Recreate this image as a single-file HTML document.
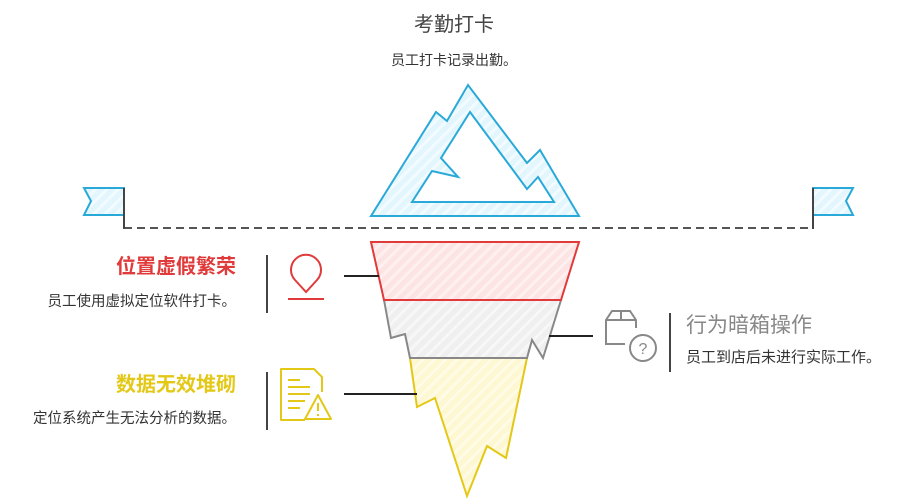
<!DOCTYPE html>
<html><head><meta charset="utf-8"><style>
body{margin:0;width:908px;height:501px;background:#fff;overflow:hidden;position:relative;font-family:"Liberation Sans","Noto Sans CJK SC",sans-serif}
.t{position:absolute;white-space:nowrap;line-height:1.2}
</style></head><body>
<svg width="908" height="501" style="position:absolute;left:0;top:0">
<defs>
<pattern id="hb" width="8" height="8" patternUnits="userSpaceOnUse" patternTransform="rotate(45)"><rect width="8" height="8" fill="#e3f6fd"/><rect width="3" height="8" fill="#f2fbff"/></pattern>
<pattern id="hr" width="8" height="8" patternUnits="userSpaceOnUse" patternTransform="rotate(45)"><rect width="8" height="8" fill="#fde4e4"/><rect width="3" height="8" fill="#fff0f0"/></pattern>
<pattern id="hg" width="8" height="8" patternUnits="userSpaceOnUse" patternTransform="rotate(45)"><rect width="8" height="8" fill="#efefef"/><rect width="3" height="8" fill="#f7f7f7"/></pattern>
<pattern id="hy" width="8" height="8" patternUnits="userSpaceOnUse" patternTransform="rotate(45)"><rect width="8" height="8" fill="#fdf7d2"/><rect width="3" height="8" fill="#fffbe6"/></pattern>
</defs>
<path d="M371,216 L436,112 L447,121 L468,85 L527,163 L540,150 L579,216 Z M412,202 L554,202 L538,177 L527,189 L470,112 L441,158 L458,177 L432,171 Z" fill="url(#hb)" fill-rule="evenodd" stroke="#29a9d8" stroke-width="2" stroke-linejoin="miter"/>
<line x1="124" y1="228" x2="813" y2="228" stroke="#555" stroke-width="2" stroke-dasharray="8,5"/>
<path d="M84,188 L124,188 L124,215 L84,215 L91,201 Z" fill="url(#hb)" stroke="#29a9d8" stroke-width="2"/>
<line x1="124" y1="188" x2="124" y2="229" stroke="#444" stroke-width="2"/>
<path d="M813,188 L853,188 L846,201 L853,215 L813,215 Z" fill="url(#hb)" stroke="#29a9d8" stroke-width="2"/>
<line x1="813" y1="188" x2="813" y2="229" stroke="#444" stroke-width="2"/>
<path d="M410,358 L527,358 L506,458 L487,446 L467,496 L435,398 L417,407 Z" fill="url(#hy)" stroke="#e3c817" stroke-width="2"/>
<path d="M384,300 L391,338 L405,334 L410,358 L527,358 L532,340 L543,358 L561,300 Z" fill="url(#hg)" stroke="#888" stroke-width="2"/>
<path d="M371,242 L579,242 L561,300 L384,300 Z" fill="url(#hr)" stroke="#e03a3a" stroke-width="2"/>
<line x1="344" y1="276" x2="379" y2="276" stroke="#222" stroke-width="2"/>
<line x1="549" y1="336" x2="593" y2="336" stroke="#222" stroke-width="2"/>
<line x1="344" y1="394" x2="417" y2="394" stroke="#222" stroke-width="2"/>
<line x1="267" y1="255" x2="267" y2="313" stroke="#444" stroke-width="2"/>
<line x1="267" y1="372" x2="267" y2="430" stroke="#444" stroke-width="2"/>
<line x1="670" y1="313" x2="670" y2="372" stroke="#444" stroke-width="2"/>
<path d="M306,292 L295,280 A15,15 0 1 1 317,280 Z" fill="none" stroke="#e03a3a" stroke-width="2"/>
<line x1="288" y1="299" x2="324" y2="299" stroke="#e03a3a" stroke-width="2"/>
<g fill="none" stroke="#e3c817" stroke-width="2" stroke-linejoin="round">
<path d="M305,420 L281,420 L281,369 L314,369 L322,377 L322,392"/>
<line x1="288" y1="380" x2="300" y2="380"/><line x1="288" y1="387" x2="310" y2="387"/><line x1="288" y1="394" x2="310" y2="394"/><line x1="288" y1="401" x2="305" y2="401"/><line x1="288" y1="408" x2="300" y2="408"/>
<path d="M318,395 L331,419 L305,419 Z"/><line x1="318" y1="403" x2="318" y2="411"/><line x1="318" y1="414" x2="318" y2="416"/>
</g>
<g fill="none" stroke="#888" stroke-width="2">
<path d="M625,344 L606,344 L606,320 L612,311 L630,311 L636,320 L636,328"/><line x1="606" y1="320" x2="636" y2="320"/><line x1="621" y1="311" x2="621" y2="320"/>
<circle cx="643" cy="348" r="13"/>
</g>
<text x="643" y="354" font-size="16" fill="#888" text-anchor="middle" font-family="Liberation Sans">?</text>
</svg>
<div class="t" style="left:0;width:908px;text-align:center;top:13px;font-size:20px;color:#444">考勤打卡</div>
<div class="t" style="left:0;width:908px;text-align:center;top:52px;font-size:14px;color:#333">员工打卡记录出勤。</div>
<div class="t" style="right:672px;top:255px;font-size:20px;font-weight:bold;color:#e03a3a">位置虚假繁荣</div>
<div class="t" style="right:672px;top:294px;font-size:14.5px;color:#333">员工使用虚拟定位软件打卡。</div>
<div class="t" style="right:672px;top:373px;font-size:20px;font-weight:bold;color:#e3c817">数据无效堆砌</div>
<div class="t" style="right:672px;top:411px;font-size:14.5px;color:#333">定位系统产生无法分析的数据。</div>
<div class="t" style="left:686px;top:313px;font-size:21px;color:#888">行为暗箱操作</div>
<div class="t" style="left:686px;top:349px;font-size:15px;color:#333">员工到店后未进行实际工作。</div>
</body></html>
